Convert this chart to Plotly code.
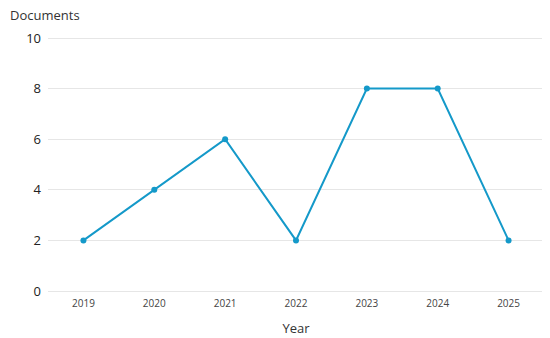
import plotly.graph_objects as go

years = ["2019", "2020", "2021", "2022", "2023", "2024", "2025"]
documents = [2, 4, 6, 2, 8, 8, 2]
y_ticks = [0, 2, 4, 6, 8, 10]

fig = go.Figure(go.Scatter(
    x=years, y=documents, mode="lines+markers",
    line=dict(color="#1499c9", width=2),
    marker=dict(color="#1499c9", size=6),
    hoverinfo="x+y",
    cliponaxis=False,
))

# page body has an 8px margin, so the figure is offset by (8, 8)
fig.update_layout(
    width=542, height=330,
    margin=dict(l=40, r=6, t=29, b=47, autoexpand=False),
    plot_bgcolor="white", paper_bgcolor="white",
    font=dict(family="Open Sans", color="#333"),
    showlegend=False,
    xaxis=dict(
        type="category", range=[-0.5, 6.5], automargin=False,
        showgrid=False, showline=False, zeroline=False,
        tickfont=dict(size=10, color="#444"),
        ticks="", ticklen=0, ticklabelstandoff=5,
        title=dict(text="Year", font=dict(size=13, color="#333"), standoff=14),
    ),
    yaxis=dict(
        range=[0, 10.04], tickvals=y_ticks, automargin=False,
        showgrid=True, gridcolor="#e6e6e6", gridwidth=1,
        zeroline=True, zerolinecolor="#e6e6e6", zerolinewidth=1,
        showline=False, ticks="",
        tickfont=dict(size=13, color="#222"),
        ticklabelstandoff=6,
    ),
    annotations=[dict(
        text="Documents", xref="paper", yref="paper",
        x=-40/496, y=1 + 22/254, xanchor="left", yanchor="middle",
        showarrow=False, font=dict(size=13, color="#333"),
    )],
)

fig.write_html("out.html")
